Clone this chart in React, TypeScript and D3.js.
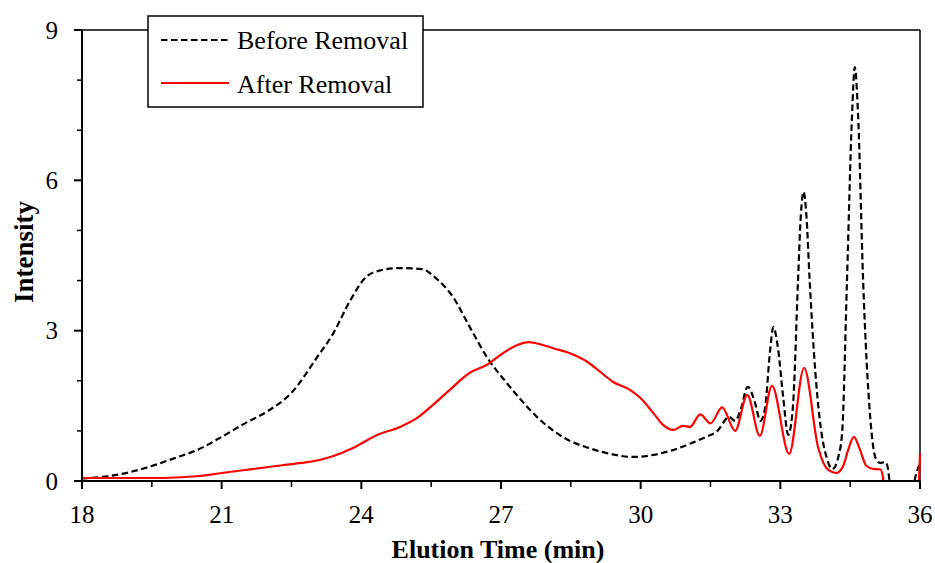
import React from "react";
import * as d3 from "d3";

const beforeTime = [18.0, 18.5, 19.0, 19.5, 20.0, 20.5, 21.0, 21.5, 22.0, 22.5, 23.05, 23.4, 23.76, 24.1, 24.4, 24.83, 25.3, 25.6, 25.97, 26.33, 26.7, 27.13, 27.4, 27.77, 28.1, 28.48, 28.85, 29.35, 29.84, 30.27, 30.7, 31.1, 31.4, 31.65, 31.9, 32.03, 32.14, 32.3, 32.46, 32.57, 32.67, 32.78, 32.85, 32.95, 33.06, 33.17, 33.27, 33.38, 33.44, 33.5, 33.56, 33.63, 33.75, 33.85, 34.0, 34.12, 34.25, 34.33, 34.43, 34.54, 34.6, 34.67, 34.78, 34.93, 35.05, 35.15, 35.25, 35.3, 35.36, 35.5, 35.8, 35.88, 36.0];
const beforeValue = [0.05, 0.09, 0.17, 0.3, 0.46, 0.63, 0.88, 1.15, 1.4, 1.76, 2.47, 2.95, 3.6, 4.07, 4.2, 4.25, 4.23, 4.05, 3.67, 3.07, 2.47, 1.95, 1.65, 1.28, 1.02, 0.8, 0.67, 0.54, 0.48, 0.52, 0.62, 0.76, 0.88, 1.0, 1.28, 1.2, 1.4, 1.88, 1.55, 1.2, 1.45, 2.6, 3.07, 2.65, 1.68, 0.92, 1.48, 4.0, 5.3, 5.77, 5.3, 4.0, 2.2, 1.2, 0.45, 0.24, 0.5, 1.0, 3.95, 7.3, 8.26, 7.3, 3.95, 1.28, 0.45, 0.36, 0.38, 0.3, -0.1, -0.5, -0.4, 0.0, 0.36];

const afterTime = [18.0, 18.5, 19.0, 19.5, 20.0, 20.5, 21.0, 21.5, 22.0, 22.7, 23.1, 23.4, 23.82, 24.34, 24.83, 25.2, 25.54, 25.9, 26.33, 26.7, 27.04, 27.34, 27.6, 27.84, 28.12, 28.48, 28.85, 29.13, 29.4, 29.77, 29.99, 30.27, 30.48, 30.7, 30.91, 31.06, 31.28, 31.5, 31.75, 32.03, 32.29, 32.56, 32.82, 33.19, 33.51, 33.81, 34.03, 34.2, 34.35, 34.45, 34.58, 34.7, 34.85, 35.0, 35.15, 35.2, 35.27, 35.9, 35.97, 36.0];
const afterValue = [0.06, 0.06, 0.06, 0.06, 0.07, 0.1, 0.16, 0.22, 0.28, 0.36, 0.42, 0.5, 0.66, 0.92, 1.08, 1.26, 1.52, 1.82, 2.16, 2.32, 2.55, 2.71, 2.77, 2.73, 2.65, 2.55, 2.38, 2.18, 1.98, 1.82, 1.66, 1.36, 1.12, 1.02, 1.1, 1.08, 1.33, 1.15, 1.47, 1.0, 1.72, 0.9, 1.9, 0.54, 2.26, 0.68, 0.22, 0.16, 0.3, 0.6, 0.88, 0.65, 0.3, 0.24, 0.23, 0.1, -0.4, -0.4, -0.1, 0.55];

const xMajorTicks = [18, 21, 24, 27, 30, 33, 36];
const xMinorTicks = [19.5, 22.5, 25.5, 28.5, 31.5, 34.5];
const yMajorTicks = [0, 3, 6, 9];
const yMinorTicks = [1, 2, 4, 5, 7, 8];

const seriesNames = ["Before Removal", "After Removal"];

const W = 935;
const H = 563;
const L = 82;
const R = 920;
const T = 30;
const B = 481;

export default function App() {
  const x = d3.scaleLinear().domain([18, 36]).range([L, R]);
  const y = d3.scaleLinear().domain([0, 9]).range([B, T]);

  const line = d3
    .line<[number, number]>()
    .x((d) => x(d[0]))
    .y((d) => y(d[1]))
    .curve(d3.curveMonotoneX);

  const before = beforeTime.map((t, i) => [t, beforeValue[i]] as [number, number]);
  const after = afterTime.map((t, i) => [t, afterValue[i]] as [number, number]);

  const font = "'Liberation Serif', 'Times New Roman', serif";

  return (
    <svg
      width={W}
      height={H}
      style={{ position: "absolute", left: 0, top: 0, display: "block", background: "#fff" }}
      fontFamily={font}
    >
      <defs>
        <clipPath id="plotClip">
          <rect x={L} y={T - 5} width={R - L + 2} height={B - T + 5} />
        </clipPath>
      </defs>
      <rect x={0} y={0} width={W} height={H} fill="#fff" />

      {/* frame */}
      <line x1={L} y1={T} x2={R} y2={T} stroke="#000" strokeWidth={1.5} />
      <line x1={R} y1={T} x2={R} y2={B} stroke="#000" strokeWidth={1.5} />

      {/* lines */}
      <g clipPath="url(#plotClip)">
        <path d={line(before) || ""} fill="none" stroke="#000" strokeWidth={2.2} strokeDasharray="6.5,3.5" />
        <path d={line(after) || ""} fill="none" stroke="#ff0000" strokeWidth={2.2} />
      </g>

      {/* axes */}
      <line x1={L} y1={T} x2={L} y2={B} stroke="#000" strokeWidth={2} />
      <line x1={L - 8} y1={B} x2={R} y2={B} stroke="#000" strokeWidth={2} />

      {xMajorTicks.map((t) => (
        <g key={"xM" + t}>
          <line x1={x(t)} y1={B} x2={x(t)} y2={B + 8} stroke="#000" strokeWidth={2} />
          <text x={x(t)} y={B + 42} textAnchor="middle" fontSize={25}>
            {t}
          </text>
        </g>
      ))}
      {xMinorTicks.map((t) => (
        <line key={"xm" + t} x1={x(t)} y1={B} x2={x(t)} y2={B + 6} stroke="#000" strokeWidth={1.5} />
      ))}
      {yMajorTicks.map((v) => (
        <g key={"yM" + v}>
          <line x1={L - 8} y1={y(v)} x2={L} y2={y(v)} stroke="#000" strokeWidth={2} />
          <text x={58} y={y(v) + 8.5} textAnchor="end" fontSize={25}>
            {v}
          </text>
        </g>
      ))}
      {yMinorTicks.map((v) => (
        <line key={"ym" + v} x1={L - 5} y1={y(v)} x2={L} y2={y(v)} stroke="#000" strokeWidth={1.5} />
      ))}

      {/* axis titles */}
      <text x={498} y={558} textAnchor="middle" fontSize={26} fontWeight="bold">
        Elution Time (min)
      </text>
      <text
        transform={`translate(33, 252) rotate(-90)`}
        textAnchor="middle"
        fontSize={27}
        fontWeight="bold"
      >
        Intensity
      </text>

      {/* legend */}
      <rect x={148} y={16} width={275} height={91} fill="#fff" stroke="#000" strokeWidth={1.5} />
      <line x1={161} y1={40} x2={229} y2={40} stroke="#000" strokeWidth={2.2} strokeDasharray="6.5,3.5" />
      <text x={237} y={49} fontSize={26}>
        {seriesNames[0]}
      </text>
      <line x1={161} y1={83} x2={229} y2={83} stroke="#ff0000" strokeWidth={2.2} />
      <text x={237} y={93} fontSize={26}>
        {seriesNames[1]}
      </text>
    </svg>
  );
}
